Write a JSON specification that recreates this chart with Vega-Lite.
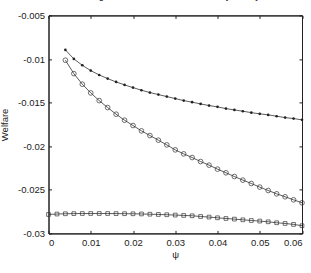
{
  "$schema": "https://vega.github.io/schema/vega-lite/v6.json",
  "autosize": "none",
  "padding": {"left": 48.5, "top": 15.4, "right": 9, "bottom": 39.6},
  "width": 253.5,
  "height": 218,
  "background": "white",
  "title": {"text": "Figure 1: Welfare and Monetary Policy", "fontSize": 10, "font": "Liberation Sans", "fontWeight": "normal", "color": "#222", "offset": 9, "anchor": "middle"},
  "config": {
    "font": "Liberation Sans",
    "view": {"stroke": "#222", "strokeWidth": 1},
    "axis": {"grid": false, "domainColor": "#222", "tickColor": "#222", "labelColor": "#222", "titleColor": "#222", "labelFont": "Liberation Sans", "titleFont": "Liberation Sans", "labelFontSize": 9.5, "titleFontSize": 9.5, "titleFontWeight": "normal", "tickSize": -3, "labelPadding": 7}
  },
  "data": {"values": [
    {"psi": 0.004, "welfare": -0.00896, "series": "A"},
    {"psi": 0.006, "welfare": -0.00999, "series": "A"},
    {"psi": 0.008, "welfare": -0.01072, "series": "A"},
    {"psi": 0.010, "welfare": -0.01133, "series": "A"},
    {"psi": 0.012, "welfare": -0.01183, "series": "A"},
    {"psi": 0.014, "welfare": -0.01225, "series": "A"},
    {"psi": 0.016, "welfare": -0.01263, "series": "A"},
    {"psi": 0.018, "welfare": -0.01297, "series": "A"},
    {"psi": 0.020, "welfare": -0.01328, "series": "A"},
    {"psi": 0.022, "welfare": -0.01358, "series": "A"},
    {"psi": 0.024, "welfare": -0.01385, "series": "A"},
    {"psi": 0.026, "welfare": -0.01408, "series": "A"},
    {"psi": 0.028, "welfare": -0.01431, "series": "A"},
    {"psi": 0.030, "welfare": -0.01454, "series": "A"},
    {"psi": 0.032, "welfare": -0.01477, "series": "A"},
    {"psi": 0.034, "welfare": -0.01495, "series": "A"},
    {"psi": 0.036, "welfare": -0.01515, "series": "A"},
    {"psi": 0.038, "welfare": -0.01534, "series": "A"},
    {"psi": 0.040, "welfare": -0.01549, "series": "A"},
    {"psi": 0.042, "welfare": -0.01569, "series": "A"},
    {"psi": 0.044, "welfare": -0.01584, "series": "A"},
    {"psi": 0.046, "welfare": -0.01599, "series": "A"},
    {"psi": 0.048, "welfare": -0.01615, "series": "A"},
    {"psi": 0.050, "welfare": -0.01629, "series": "A"},
    {"psi": 0.052, "welfare": -0.01641, "series": "A"},
    {"psi": 0.054, "welfare": -0.01656, "series": "A"},
    {"psi": 0.056, "welfare": -0.01672, "series": "A"},
    {"psi": 0.058, "welfare": -0.01683, "series": "A"},
    {"psi": 0.060, "welfare": -0.01698, "series": "A"},
    {"psi": 0.004, "welfare": -0.01014, "series": "B"},
    {"psi": 0.006, "welfare": -0.01168, "series": "B"},
    {"psi": 0.008, "welfare": -0.01289, "series": "B"},
    {"psi": 0.010, "welfare": -0.01389, "series": "B"},
    {"psi": 0.012, "welfare": -0.01477, "series": "B"},
    {"psi": 0.014, "welfare": -0.01557, "series": "B"},
    {"psi": 0.016, "welfare": -0.01633, "series": "B"},
    {"psi": 0.018, "welfare": -0.01702, "series": "B"},
    {"psi": 0.020, "welfare": -0.01763, "series": "B"},
    {"psi": 0.022, "welfare": -0.01824, "series": "B"},
    {"psi": 0.024, "welfare": -0.01878, "series": "B"},
    {"psi": 0.026, "welfare": -0.01931, "series": "B"},
    {"psi": 0.028, "welfare": -0.01985, "series": "B"},
    {"psi": 0.030, "welfare": -0.02042, "series": "B"},
    {"psi": 0.032, "welfare": -0.02088, "series": "B"},
    {"psi": 0.034, "welfare": -0.02130, "series": "B"},
    {"psi": 0.036, "welfare": -0.02176, "series": "B"},
    {"psi": 0.038, "welfare": -0.02217, "series": "B"},
    {"psi": 0.040, "welfare": -0.02263, "series": "B"},
    {"psi": 0.042, "welfare": -0.02305, "series": "B"},
    {"psi": 0.044, "welfare": -0.02348, "series": "B"},
    {"psi": 0.046, "welfare": -0.02389, "series": "B"},
    {"psi": 0.048, "welfare": -0.02428, "series": "B"},
    {"psi": 0.050, "welfare": -0.02469, "series": "B"},
    {"psi": 0.052, "welfare": -0.02508, "series": "B"},
    {"psi": 0.054, "welfare": -0.02546, "series": "B"},
    {"psi": 0.056, "welfare": -0.02580, "series": "B"},
    {"psi": 0.058, "welfare": -0.02615, "series": "B"},
    {"psi": 0.060, "welfare": -0.02649, "series": "B"},
    {"psi": 0.000, "welfare": -0.02783, "series": "C"},
    {"psi": 0.002, "welfare": -0.02778, "series": "C"},
    {"psi": 0.004, "welfare": -0.02775, "series": "C"},
    {"psi": 0.006, "welfare": -0.02773, "series": "C"},
    {"psi": 0.008, "welfare": -0.02772, "series": "C"},
    {"psi": 0.010, "welfare": -0.02772, "series": "C"},
    {"psi": 0.012, "welfare": -0.02772, "series": "C"},
    {"psi": 0.014, "welfare": -0.02772, "series": "C"},
    {"psi": 0.016, "welfare": -0.02773, "series": "C"},
    {"psi": 0.018, "welfare": -0.02774, "series": "C"},
    {"psi": 0.020, "welfare": -0.02775, "series": "C"},
    {"psi": 0.022, "welfare": -0.02777, "series": "C"},
    {"psi": 0.024, "welfare": -0.02780, "series": "C"},
    {"psi": 0.026, "welfare": -0.02783, "series": "C"},
    {"psi": 0.028, "welfare": -0.02786, "series": "C"},
    {"psi": 0.030, "welfare": -0.02790, "series": "C"},
    {"psi": 0.032, "welfare": -0.02794, "series": "C"},
    {"psi": 0.034, "welfare": -0.02798, "series": "C"},
    {"psi": 0.036, "welfare": -0.02806, "series": "C"},
    {"psi": 0.038, "welfare": -0.02813, "series": "C"},
    {"psi": 0.040, "welfare": -0.02821, "series": "C"},
    {"psi": 0.042, "welfare": -0.02829, "series": "C"},
    {"psi": 0.044, "welfare": -0.02836, "series": "C"},
    {"psi": 0.046, "welfare": -0.02844, "series": "C"},
    {"psi": 0.048, "welfare": -0.02852, "series": "C"},
    {"psi": 0.050, "welfare": -0.02859, "series": "C"},
    {"psi": 0.052, "welfare": -0.02867, "series": "C"},
    {"psi": 0.054, "welfare": -0.02878, "series": "C"},
    {"psi": 0.056, "welfare": -0.02886, "series": "C"},
    {"psi": 0.058, "welfare": -0.02897, "series": "C"},
    {"psi": 0.060, "welfare": -0.02912, "series": "C"}
  ]},
  "resolve": {"axis": {"x": "independent", "y": "independent"}},
  "layer": [
    {
      "mark": {"type": "line", "color": "#333", "strokeWidth": 0.8},
      "encoding": {
        "x": {"field": "psi", "type": "quantitative", "scale": {"domain": [0, 0.06], "nice": false, "zero": false}, "axis": {"title": "ψ", "values": [0, 0.01, 0.02, 0.03, 0.04, 0.05, 0.06], "labelExpr": "toString(datum.value)", "titlePadding": 3}},
        "y": {"field": "welfare", "type": "quantitative", "scale": {"domain": [-0.03, -0.005], "nice": false, "zero": false}, "axis": {"title": "Welfare", "values": [-0.03, -0.025, -0.02, -0.015, -0.01, -0.005], "labelExpr": "toString(datum.value)", "titlePadding": 8}},
        "detail": {"field": "series"}
      }
    },
    {
      "transform": [{"filter": "datum.series == 'A'"}],
      "mark": {"type": "point", "shape": "circle", "filled": true, "color": "#222", "size": 7, "opacity": 1},
      "encoding": {
        "x": {"field": "psi", "type": "quantitative", "axis": null},
        "y": {"field": "welfare", "type": "quantitative", "axis": null}
      }
    },
    {
      "transform": [{"filter": "datum.series == 'B'"}],
      "mark": {"type": "point", "shape": "circle", "filled": false, "color": "#333", "size": 22, "strokeWidth": 0.7, "opacity": 1},
      "encoding": {
        "x": {"field": "psi", "type": "quantitative", "axis": null},
        "y": {"field": "welfare", "type": "quantitative", "axis": null}
      }
    },
    {
      "transform": [{"filter": "datum.series == 'C'"}],
      "mark": {"type": "point", "shape": "square", "filled": false, "color": "#333", "size": 14, "strokeWidth": 0.7, "opacity": 1},
      "encoding": {
        "x": {"field": "psi", "type": "quantitative", "axis": null},
        "y": {"field": "welfare", "type": "quantitative", "axis": null}
      }
    },
    {
      "mark": {"type": "point", "opacity": 0},
      "encoding": {
        "x": {"field": "psi", "type": "quantitative", "axis": {"orient": "top", "title": null, "labels": false, "values": [0, 0.01, 0.02, 0.03, 0.04, 0.05, 0.06]}},
        "y": {"field": "welfare", "type": "quantitative", "axis": {"orient": "right", "title": null, "labels": false, "values": [-0.03, -0.025, -0.02, -0.015, -0.01, -0.005]}}
      }
    }
  ]
}
